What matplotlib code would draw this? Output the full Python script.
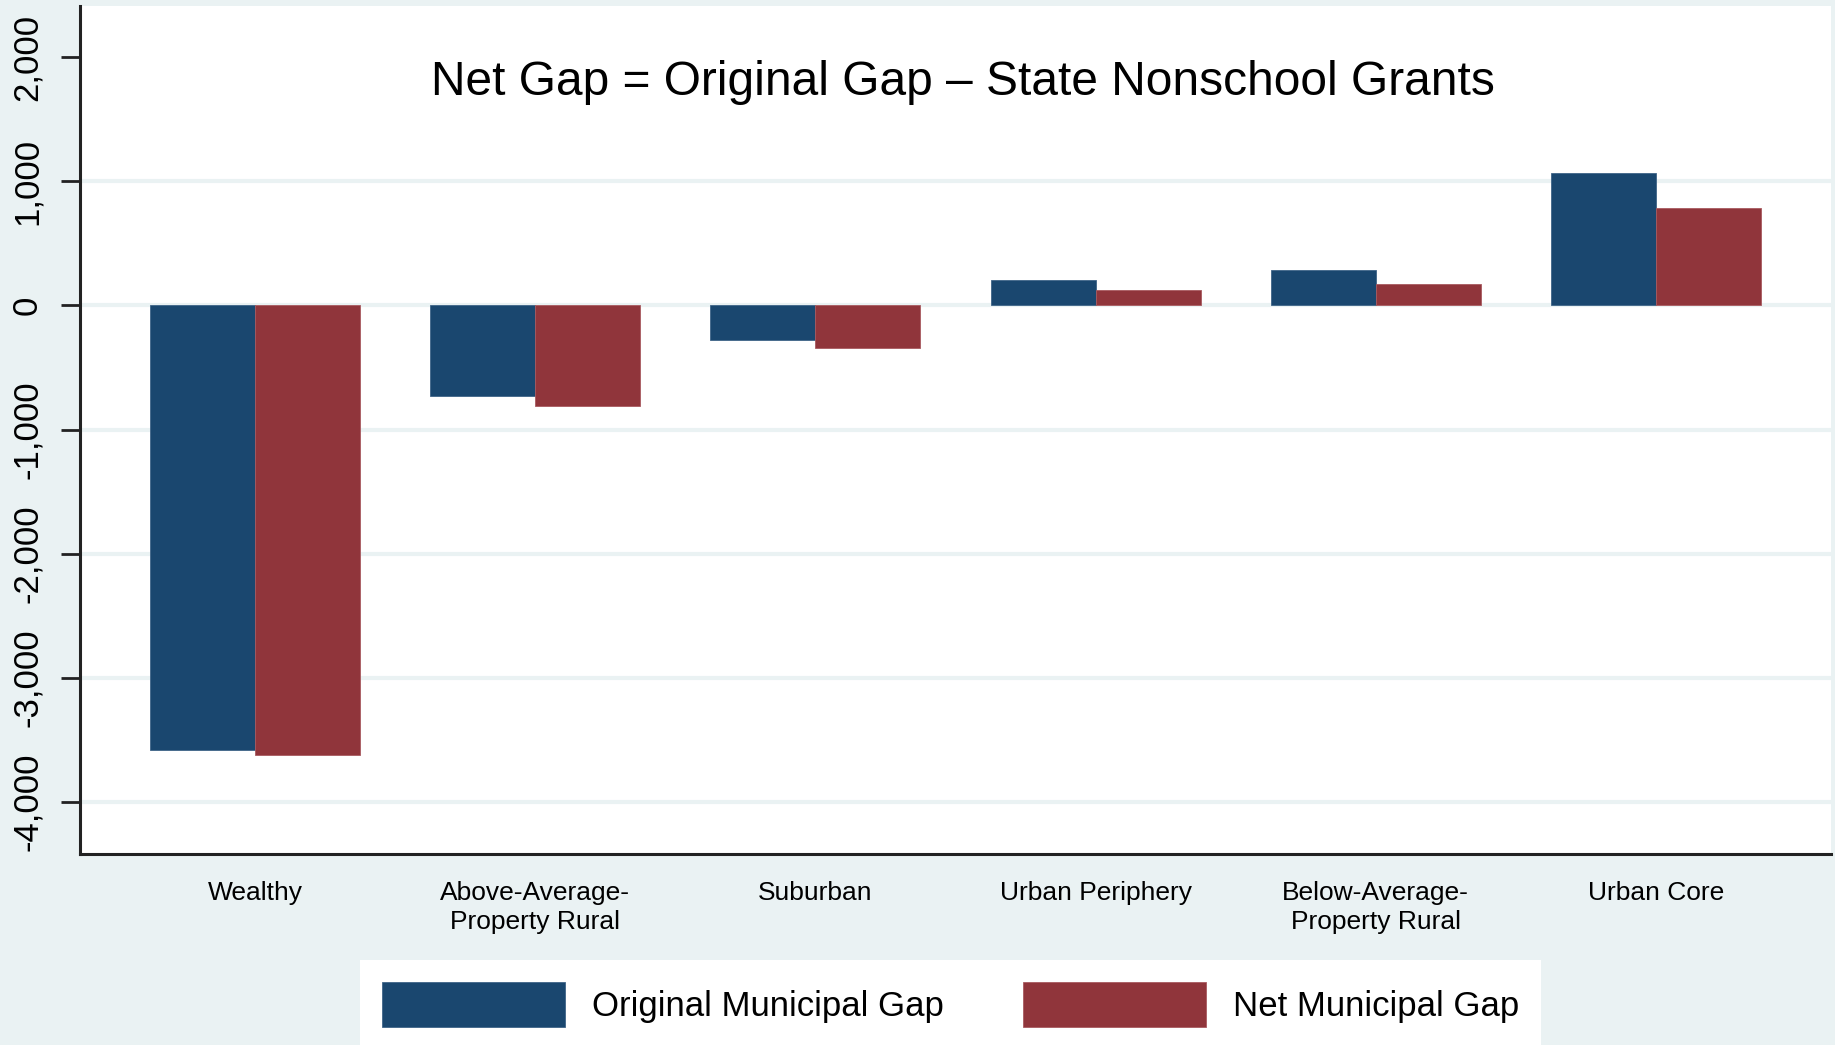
import matplotlib
matplotlib.use("Agg")
import matplotlib.pyplot as plt
import numpy as np

categories = ["Wealthy", "Above-Average-\nProperty Rural", "Suburban",
              "Urban Periphery", "Below-Average-\nProperty Rural", "Urban Core"]
original_gap = [-3578, -730, -277, 209, 289, 1068]
net_gap = [-3618, -811, -341, 123, 171, 783]
yticks = [-4000, -3000, -2000, -1000, 0, 1000, 2000]
ytick_labels = ["-4,000", "-3,000", "-2,000", "-1,000", "0", "1,000", "2,000"]
series_names = ["Original Municipal Gap", "Net Municipal Gap"]
title = "Net Gap = Original Gap \u2013 State Nonschool Grants"

BG = "#eaf2f3"
BLUE = "#1a476f"
RED = "#90353b"

plt.rcParams["font.family"] = ["Liberation Sans", "DejaVu Sans"]

fig = plt.figure(figsize=(18.35, 10.45), dpi=100, facecolor=BG)
ax = fig.add_axes([80 / 1835, 1 - 853.5 / 1045, (1831 - 80) / 1835, (853.5 - 5.7) / 1045])
ax.set_facecolor("white")

x = np.arange(len(categories))
w = 0.375
ax.bar(x - w / 2, original_gap, width=w, color=BLUE, edgecolor="#3f6488", linewidth=0.6,
       label=series_names[0], zorder=3)
ax.bar(x + w / 2, net_gap, width=w, color=RED, edgecolor="#a85a60", linewidth=0.6,
       label=series_names[1], zorder=3)

ax.set_xlim(-0.625, 5.625)
ax.set_ylim(-4415, 2415)
ax.set_yticks(yticks)
ax.set_yticklabels(ytick_labels, rotation=90, va="center", fontsize=25)
ax.set_xticks(x)
ax.set_xticklabels(categories, fontsize=19, linespacing=1.25)

ax.tick_params(axis="y", length=14, width=2, pad=12, color="#222222")
ax.tick_params(axis="x", length=0, pad=20)

for gl_val in yticks:
    if gl_val != 2000:
        ax.axhline(gl_val, color=BG, linewidth=3, zorder=1)

for s in ["top", "right"]:
    ax.spines[s].set_visible(False)
for s in ["left", "bottom"]:
    ax.spines[s].set_linewidth(2.2)
    ax.spines[s].set_color("#222222")

ax.text(0.504, 0.909, title, transform=ax.transAxes, ha="center", va="center", fontsize=34.5)

leg = fig.legend(loc="lower center", bbox_to_anchor=(950.5 / 1835, -0.003), ncol=2,
                 fontsize=25, frameon=True, fancybox=False, framealpha=1,
                 facecolor="white", edgecolor="white", handlelength=5.27,
                 handleheight=1.6, handletextpad=0.78, columnspacing=2.28,
                 borderpad=0.62, borderaxespad=0)
leg.get_frame().set_linewidth(0)

fig.savefig("out.png", dpi=100, facecolor=BG)
